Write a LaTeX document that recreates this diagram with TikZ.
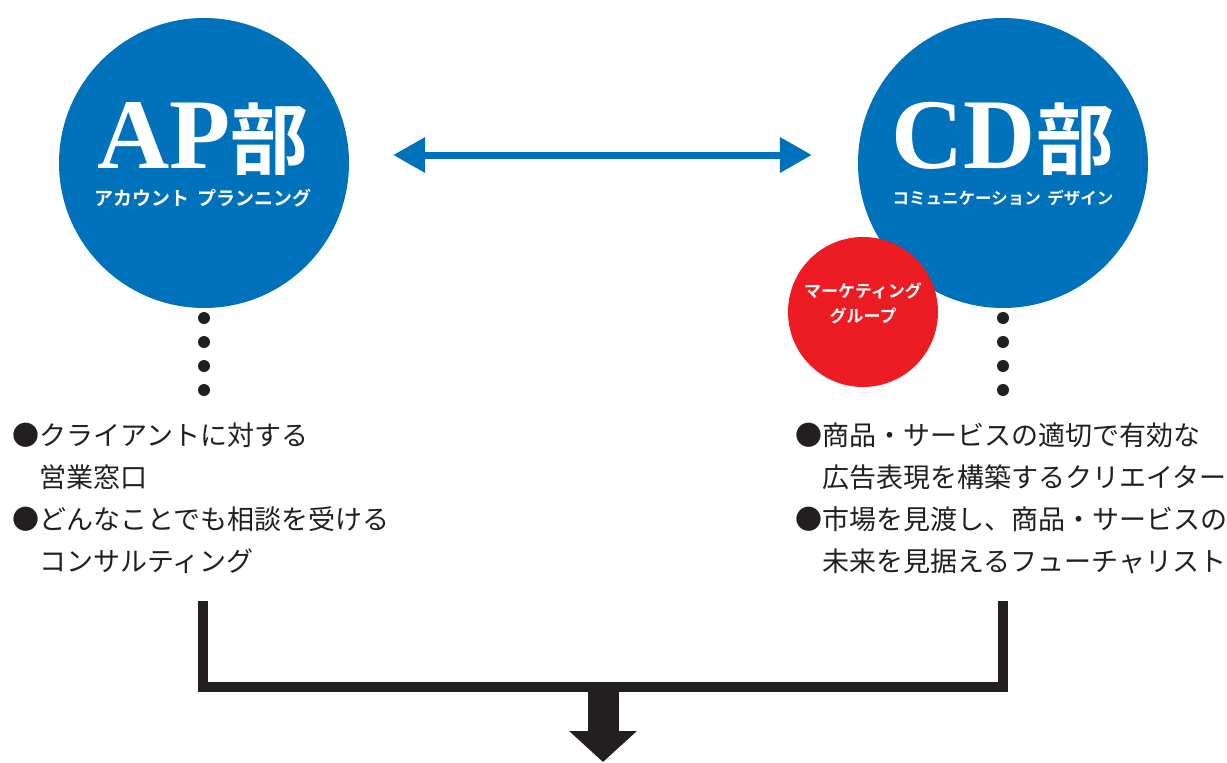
\documentclass[tikz,border=0pt]{standalone}
\usepackage{fontspec}
\setmainfont{Liberation Serif}
\newfontfamily\jpfont{Noto Sans CJK JP}[BoldFont={* Bold}]
\newfontfamily\jpblack{Noto Sans CJK JP Black}
\usetikzlibrary{arrows.meta,positioning}
\definecolor{bublue}{HTML}{0071BB}
\definecolor{mkred}{HTML}{ED1C24}
\definecolor{inkblack}{HTML}{231F20}
\tikzset{
    bucircle/.style={
        circle,
        fill=bublue,
        minimum size=290pt,
        inner sep=0pt
    },
    titletext/.style={
        text=white,
        inner sep=0pt,
        font=\bfseries\fontsize{100}{100}\selectfont
    },
    subtext/.style={
        text=white,
        inner sep=0pt,
        font=\jpfont\bfseries\fontsize{19}{19}\selectfont
    },
    listtext/.style={
        align=left,
        inner sep=0pt,
        text=inkblack,
        font=\jpfont\fontsize{27}{42}\selectfont
    },
    bothway/.style={
        {Triangle[length=32pt,width=34pt]}-{Triangle[length=32pt,width=34pt]},
        line width=7pt,
        draw=bublue
    },
    bracket/.style={
        draw=inkblack,
        line width=10pt,
        line join=miter
    },
    downarrow/.style={
        -{Triangle[length=31pt,width=66pt]},
        line width=31pt,
        draw=inkblack
    }
}
\newcommand{\bu}[1]{{\jpblack\fontsize{78}{78}\selectfont #1}}

\begin{document}
\begin{tikzpicture}[x=1pt,y=-1pt]
    \useasboundingbox (0,0) rectangle (1227,763);

    % departments
    \node[bucircle] (ap) at (204,163) {};
    \node[bucircle] (cd) at (1003,163) {};
    \node[circle, fill=mkred, minimum size=150pt, inner sep=0pt] (mk) at (863,312) {};

    % titles
    \node[titletext, anchor=base] (aptitle) at (203,168) {AP\bu{部}};
    \node[subtext] (apsub) at (203,198) {アカウント\hspace{0.4em}プランニング};
    \node[titletext, anchor=base] (cdtitle) at (1003,168) {CD\bu{部}};
    \node[subtext, font=\jpfont\bfseries\fontsize{16.5}{16.5}\selectfont] (cdsub) at (1003,198) {コミュニケーション\hspace{0.4em}デザイン};
    \node[text=white, align=center, inner sep=0pt, font=\jpfont\bfseries\fontsize{17}{25}\selectfont] (mktitle) at (863,303) {マーケティング\\グループ};

    % link between departments
    \draw[bothway, shorten <=44pt, shorten >=46pt] ([yshift=8pt]ap.east) -- ([yshift=8pt]cd.west);

    % dotted leaders
    \foreach \yy in {318,342,366,390}
    {
        \fill[inkblack] (204,\yy) circle (6pt);
        \fill[inkblack] (1003,\yy) circle (6pt);
    }

    % roles
    \node[listtext, anchor=north west] (aptext) at (12,423) {●クライアントに対する\\\phantom{●}営業窓口\\●どんなことでも相談を受ける\\\phantom{●}コンサルティング};
    \node[listtext, anchor=north west] (cdtext) at (795,423) {●商品・サービスの適切で有効な\\\phantom{●}広告表現を構築するクリエイター\\●市場を見渡し、商品・サービスの\\\phantom{●}未来を見据えるフューチャリスト};

    % merge
    \coordinate (apfoot) at (203,601);
    \coordinate (cdfoot) at (1003,601);
    \coordinate (join) at (603,687);
    \coordinate (out) at (603,762);
    \draw[bracket] (apfoot) |- (join) -| (cdfoot);
    \draw[downarrow] (join) -- (out);
\end{tikzpicture}
\end{document}
